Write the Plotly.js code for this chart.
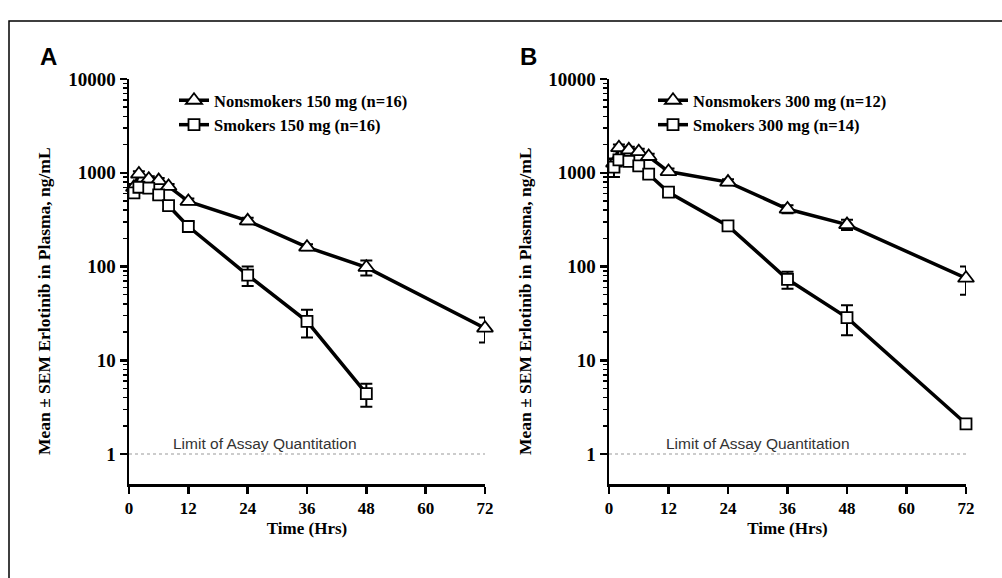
<!DOCTYPE html>
<html>
<head>
<meta charset="utf-8">
<script src="https://cdn.plot.ly/plotly-3.0.1.min.js"></script>
<style>html,body{margin:0;padding:0;background:#fff;}#chart{width:1002px;height:578px;}</style>
</head>
<body>
<div id="chart"></div>
<script>
// ---- Data ----
const timeNonA = [1, 2, 4, 6, 8, 12, 24, 36, 48, 72];
const nonA     = [700, 970, 855, 825, 715, 495, 307, 161, 98, 22];
const nonAErr  = [60, 70, 60, 55, 45, 35, 25, 12, 18, 6.5];

const timeSmkA = [1, 2, 4, 6, 8, 12, 24, 36, 48];
const smkA     = [610, 700, 685, 580, 445, 267, 81, 26, 4.4];
const smkAErr  = [70, 60, 60, 50, 40, 30, 19, 8.5, 1.2];

const timeNonB = [1, 2, 4, 6, 8, 12, 24, 36, 48, 72];
const nonB     = [1266, 1850, 1755, 1680, 1490, 1030, 795, 410, 280, 75];
const nonBErr  = [150, 150, 140, 120, 100, 80, 60, 40, 35, 25];

const timeSmkB = [1, 2, 4, 6, 8, 12, 24, 36, 48, 72];
const smkB     = [1150, 1370, 1320, 1185, 965, 620, 271, 73, 28.5, 2.1];
const smkBErr  = [250, 150, 120, 100, 80, 50, 25, 15, 10, 0.2];

const loq = 1;
const loqTimes = [0, 72];
const loqLabel = 'Limit of Assay Quantitation';

const namesA = ['Nonsmokers 150 mg (n=16)', 'Smokers 150 mg (n=16)'];
const namesB = ['Nonsmokers 300 mg (n=12)', 'Smokers 300 mg (n=14)'];

const xTicks = [0, 12, 24, 36, 48, 60, 72];
const yTicks = [1, 10, 100, 1000, 10000];
const yTickText = ['1', '10', '100', '1000', '10000'];

// minor log ticks 2..9 per decade
const minorVals = [];
for (let d = 0; d < 4; d++) for (let m = 2; m <= 9; m++) minorVals.push(m * Math.pow(10, d));

const serif = '"Liberation Serif", "Times New Roman", serif';
const sans = '"Liberation Sans", Arial, sans-serif';

function series(x, y, e, name, sym, size, xa, ya, leg) {
  return {
    x: x, y: y, name: name, type: 'scatter', mode: 'lines+markers',
    xaxis: xa, yaxis: ya, legend: leg, cliponaxis: false,
    line: {color: '#000', width: 3.5},
    marker: {symbol: sym, size: size, color: '#fff', line: {color: '#000', width: 1.8}},
    error_y: {type: 'data', array: e, visible: true, color: '#000', thickness: 2, width: 6}
  };
}
function loqLine(xa, ya) {
  return {x: loqTimes, y: [loq, loq], type: 'scatter', mode: 'lines', xaxis: xa, yaxis: ya,
    showlegend: false, hoverinfo: 'skip', line: {color: '#999', width: 1, dash: 'dot'}};
}

const data = [
  loqLine('x', 'y'), loqLine('x2', 'y2'),
  series(timeNonA, nonA, nonAErr, namesA[0], 'triangle-up', 14, 'x', 'y', 'legend'),
  series(timeSmkA, smkA, smkAErr, namesA[1], 'square', 11, 'x', 'y', 'legend'),
  series(timeNonB, nonB, nonBErr, namesB[0], 'triangle-up', 14, 'x2', 'y2', 'legend2'),
  series(timeSmkB, smkB, smkBErr, namesB[1], 'square', 11, 'x2', 'y2', 'legend2')
];

const W = 1002, H = 578;
const px = v => v / W, py = v => 1 - v / H;

function xax(dom, anchor) {
  return {
    domain: dom, anchor: anchor, range: [0, 72], tickvals: xTicks,
    ticks: 'outside', ticklen: 7, tickwidth: 2.5, tickcolor: '#000',
    showline: true, linewidth: 2.5, linecolor: '#000', showgrid: false, zeroline: false,
    tickfont: {family: serif, size: 17, color: '#000', weight: 'bold'},
    title: {text: 'Time (Hrs)', font: {family: serif, size: 17, color: '#000', weight: 'bold'}, standoff: 5}
  };
}
function yax(anchor) {
  return {
    domain: [py(484), py(79)], anchor: anchor, type: 'log', range: [-0.32, 4],
    tickmode: 'array', tickvals: yTicks, ticktext: yTickText,
    ticks: 'outside', ticklen: 7, tickwidth: 2.5, tickcolor: '#000',
    minor: {tickmode: 'array', tickvals: minorVals, ticks: 'outside', ticklen: 4, tickwidth: 1.5, tickcolor: '#000', showgrid: false},
    showline: true, linewidth: 2.5, linecolor: '#000', showgrid: false, zeroline: false,
    tickfont: {family: serif, size: 19, color: '#000', weight: 'bold'}
  };
}
const legFont = {family: serif, size: 16.5, color: '#000', weight: 'bold'};

const layout = {
  width: W, height: H, margin: {l: 0, r: 0, t: 0, b: 0},
  paper_bgcolor: '#fff', plot_bgcolor: 'rgba(0,0,0,0)',
  xaxis: xax([px(129), px(485)], 'y'),
  yaxis: yax('x'),
  xaxis2: xax([px(609), px(966)], 'y2'),
  yaxis2: yax('x2'),
  legend: {x: px(174), y: py(83), xanchor: 'left', yanchor: 'top', bgcolor: 'rgba(0,0,0,0)', font: legFont, itemwidth: 30, tracegroupgap: 0},
  legend2: {x: px(653), y: py(83), xanchor: 'left', yanchor: 'top', bgcolor: 'rgba(0,0,0,0)', font: legFont, itemwidth: 30, tracegroupgap: 0},
  shapes: [
    {type: 'rect', xref: 'paper', yref: 'paper', x0: px(9), x1: px(1012), y0: py(21), y1: py(600), line: {color: '#000', width: 1.5}}
  ],
  annotations: [
    {text: 'A', xref: 'paper', yref: 'paper', x: px(48), y: py(57), xanchor: 'center', yanchor: 'middle', showarrow: false, font: {family: sans, size: 24, color: '#000', weight: 'bold'}},
    {text: 'B', xref: 'paper', yref: 'paper', x: px(528), y: py(57), xanchor: 'center', yanchor: 'middle', showarrow: false, font: {family: sans, size: 24, color: '#000', weight: 'bold'}},
    {text: 'Mean ± SEM Erlotinib in Plasma, ng/mL', xref: 'paper', yref: 'paper', x: px(44), y: py(301), textangle: -90, showarrow: false, xanchor: 'center', yanchor: 'middle', font: {family: serif, size: 17.5, color: '#000', weight: 'bold'}},
    {text: 'Mean ± SEM Erlotinib in Plasma, ng/mL', xref: 'paper', yref: 'paper', x: px(525), y: py(301), textangle: -90, showarrow: false, xanchor: 'center', yanchor: 'middle', font: {family: serif, size: 17.5, color: '#000', weight: 'bold'}},
    {text: loqLabel, xref: 'x', yref: 'y', x: 27.5, y: Math.log10(1.31 * loq), showarrow: false, xanchor: 'center', yanchor: 'middle', font: {family: sans, size: 15.5, color: '#333'}},
    {text: loqLabel, xref: 'x2', yref: 'y2', x: 30, y: Math.log10(1.31 * loq), showarrow: false, xanchor: 'center', yanchor: 'middle', font: {family: sans, size: 15.5, color: '#333'}}
  ],
  showlegend: true
};

Plotly.newPlot('chart', data, layout, {displayModeBar: false, staticPlot: true});
</script>
</body>
</html>
